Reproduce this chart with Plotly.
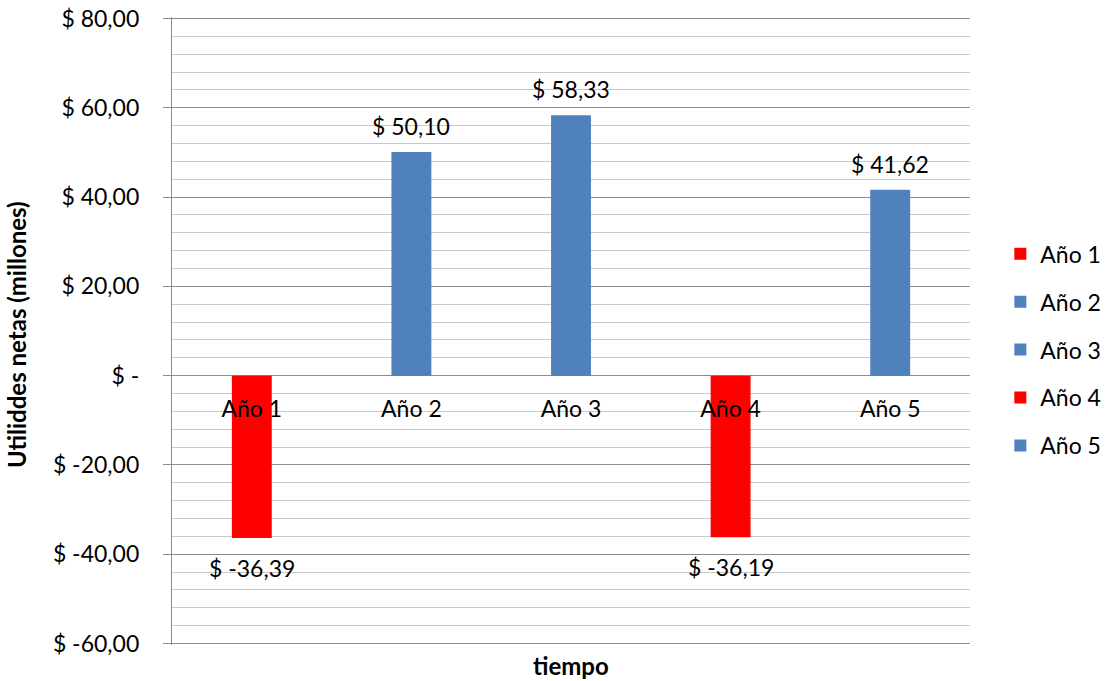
import plotly.graph_objects as go

categories = ["Año 1", "Año 2", "Año 3", "Año 4", "Año 5"]
values = [-36.39, 50.10, 58.33, -36.19, 41.62]
value_labels = ["$ -36,39", "$ 50,10", "$ 58,33", "$ -36,19", "$ 41,62"]
colors = ["#FF0000", "#4F81BD", "#4F81BD", "#FF0000", "#4F81BD"]
ytick_vals = [80, 60, 40, 20, 0, -20, -40, -60]
ytick_text = ["$ 80,00", "$ 60,00", "$ 40,00", "$ 20,00", "$ -", "$ -20,00", "$ -40,00", "$ -60,00"]

FONT = "Lato"
FS = 23
GRID = "#8C8C8C"
Y_RANGE = [-60.35, 80.35]

fig = go.Figure()
for cat, val, lab, col in zip(categories, values, value_labels, colors):
    fig.add_trace(go.Bar(
        x=[cat], y=[val], name=cat, legendgroup=cat,
        marker=dict(color=col, line=dict(width=0)),
        width=0.25,
    ))
    fig.add_annotation(x=cat, y=val, xref="x", yref="y", text=lab,
                       showarrow=False, yshift=26 if val >= 0 else -30,
                       xanchor="center", yanchor="middle",
                       font=dict(family=FONT, size=FS, color="#000000"))

fig.update_layout(
    width=1108, height=681,
    margin=dict(l=172, r=138, t=17, b=36, autoexpand=False),
    paper_bgcolor="white", plot_bgcolor="white",
    barmode="overlay",
    font=dict(family=FONT, size=FS, color="#000000"),
    showlegend=True,
    legend=dict(x=1.038, y=0.47, xanchor="left", yanchor="middle",
                font=dict(family=FONT, size=FS), traceorder="grouped",
                tracegroupgap=15, itemwidth=30, bgcolor="rgba(0,0,0,0)"),
    xaxis=dict(type="category", categoryorder="array", categoryarray=categories,
               anchor="free", position=(0 - Y_RANGE[0]) / (Y_RANGE[1] - Y_RANGE[0]),
               showline=False, showgrid=False,
               ticks="", zeroline=False, automargin=False, ticklabelstandoff=17,
               tickfont=dict(family=FONT, size=FS)),
    yaxis=dict(range=Y_RANGE, tickvals=ytick_vals, ticktext=ytick_text,
               showgrid=True, gridcolor=GRID, gridwidth=1.3,
               zeroline=False, showline=True, linecolor=GRID, linewidth=1.3,
               ticks="outside", ticklen=8, tickcolor=GRID, tickwidth=1.3,
               automargin=False, ticklabelstandoff=19,
               tickfont=dict(family=FONT, size=FS),
               minor=dict(dtick=4, tick0=0, showgrid=True, gridcolor="#C8C8C8",
                          gridwidth=1.3, ticks="")),
)

fig.add_annotation(text="<b>tiempo</b>", xref="paper", yref="paper",
                   x=0.5, y=-0.032, xanchor="center", yanchor="middle",
                   showarrow=False, font=dict(family=FONT, size=24))
fig.add_annotation(text="<b>Utiliddes netas (millones)</b>", xref="paper", yref="paper",
                   x=-0.194, y=0.494, xanchor="center", yanchor="middle",
                   textangle=-90, showarrow=False, font=dict(family=FONT, size=24))

fig.write_html("out.html")
